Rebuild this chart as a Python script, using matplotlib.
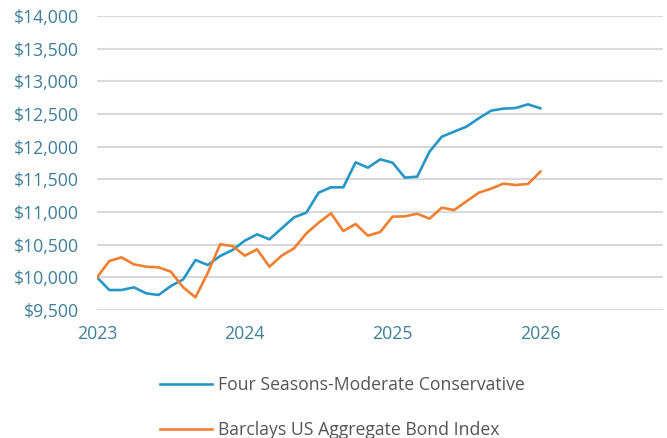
import matplotlib.pyplot as plt
import numpy as np

years = [2023, 2024, 2025, 2026]
y_ticks = [9500, 10000, 10500, 11000, 11500, 12000, 12500, 13000, 13500, 14000]

# monthly values, Jan 2023 .. Jan 2026
four_seasons = [10000, 9806, 9806, 9847, 9755, 9730, 9867, 9969, 10265, 10189,
                10327, 10418, 10561, 10658, 10582, 10750, 10918, 10990, 11296, 11378,
                11378, 11760, 11679, 11806, 11755, 11526, 11541, 11923, 12153, 12230,
                12306, 12434, 12551, 12582, 12592, 12648, 12587]
barclays = [10000, 10250, 10306, 10199, 10163, 10153, 10087, 9847, 9694, 10070,
            10505, 10480, 10332, 10429, 10163, 10332, 10444, 10673, 10837, 10980,
            10709, 10816, 10638, 10694, 10929, 10934, 10974, 10898, 11066, 11031,
            11163, 11296, 11357, 11434, 11413, 11429, 11617]

plt.rcParams['font.family'] = ['Open Sans', 'DejaVu Sans']

x = 2023 + np.arange(len(four_seasons)) / 12

fig = plt.figure(figsize=(6.67, 4.38), dpi=100)
ax = fig.add_axes([0.1454, 0.2922, 0.8486, 0.6713])

tick_col = '#3d7f98'
ax.plot(x, four_seasons, color='#2596c5', lw=1.9, label='Four Seasons-Moderate Conservative', zorder=3)
ax.plot(x, barclays, color='#f07f2f', lw=1.9, label='Barclays US Aggregate Bond Index', zorder=3)

ax.set_ylim(9500, 14000)
ax.set_xlim(2023, 2026.83)
ax.set_yticks(y_ticks)
ax.set_yticklabels(['${:,}'.format(v) for v in y_ticks])
ax.set_xticks(years)
ax.set_xticklabels([str(y) for y in years])
ax.grid(axis='y', color='#d9d9d9', lw=1.5)
ax.set_axisbelow(True)
for s in ax.spines.values():
    s.set_visible(False)
ax.tick_params(axis='y', length=0, pad=13, labelsize=12.7, labelcolor=tick_col)
ax.tick_params(axis='x', length=0, pad=10.5, labelsize=12.7, labelcolor=tick_col)

leg = fig.legend(loc='upper left', bbox_to_anchor=(0.240, 0.141), frameon=False,
                 fontsize=12.7, handlelength=2.95, handletextpad=0.34, labelspacing=1.53,
                 borderaxespad=0, borderpad=0)
for t in leg.get_texts():
    t.set_color('#555555')

fig.savefig('out.png', dpi=100)
